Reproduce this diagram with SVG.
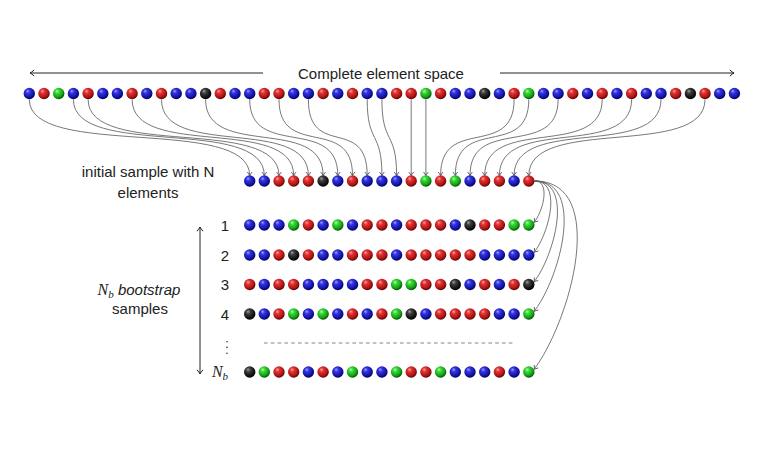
<svg xmlns="http://www.w3.org/2000/svg" xmlns:xlink="http://www.w3.org/1999/xlink" width="768" height="466" viewBox="0 0 768 466">
<style>
.t{font-family:"Liberation Sans","DejaVu Sans",sans-serif;font-size:15px;fill:#222;}
.m{font-family:"Liberation Serif","DejaVu Serif",serif;font-style:italic;fill:#222;}
.c{fill:none;stroke:#555;stroke-width:0.8;marker-end:url(#ah);}
.k{fill:none;stroke:#222;stroke-width:1;}
</style>
<defs>
<radialGradient id="gB" cx="0.42" cy="0.38" r="0.62" fx="0.35" fy="0.28"><stop offset="0" stop-color="#a0a0ff"/><stop offset="0.3" stop-color="#3434e0"/><stop offset="0.75" stop-color="#1414a8"/><stop offset="1" stop-color="#00005a"/></radialGradient>
<radialGradient id="gR" cx="0.42" cy="0.38" r="0.62" fx="0.35" fy="0.28"><stop offset="0" stop-color="#ffa0a0"/><stop offset="0.3" stop-color="#e03434"/><stop offset="0.75" stop-color="#b01414"/><stop offset="1" stop-color="#600000"/></radialGradient>
<radialGradient id="gG" cx="0.42" cy="0.38" r="0.62" fx="0.35" fy="0.28"><stop offset="0" stop-color="#b0ffb0"/><stop offset="0.3" stop-color="#38d838"/><stop offset="0.75" stop-color="#14a014"/><stop offset="1" stop-color="#005000"/></radialGradient>
<radialGradient id="gK" cx="0.42" cy="0.38" r="0.62" fx="0.35" fy="0.28"><stop offset="0" stop-color="#a0a0a0"/><stop offset="0.3" stop-color="#404040"/><stop offset="0.75" stop-color="#141414"/><stop offset="1" stop-color="#000000"/></radialGradient>
<circle id="B" r="5.7" fill="url(#gB)"/>
<circle id="R" r="5.7" fill="url(#gR)"/>
<circle id="G" r="5.7" fill="url(#gG)"/>
<circle id="K" r="5.7" fill="url(#gK)"/>
<marker id="ah" viewBox="-5 -4 6 8" refX="0" refY="0" markerWidth="6" markerHeight="8" markerUnits="userSpaceOnUse" orient="auto" overflow="visible"><path d="M-3.5,-2.4 Q-1.2,-0.6 0,0 Q-1.2,0.6 -3.5,2.4" fill="none" stroke="#444" stroke-width="0.8"/></marker>
<marker id="ak" viewBox="-6 -5 7 10" refX="0" refY="0" markerWidth="7" markerHeight="10" markerUnits="userSpaceOnUse" orient="auto" overflow="visible"><path d="M-4.2,-3 Q-1.5,-0.7 0,0 Q-1.5,0.7 -4.2,3" fill="none" stroke="#222" stroke-width="1"/></marker>
</defs>
<rect width="768" height="466" fill="#ffffff"/>

<g id="element-space-label">
<line class="k" x1="263" y1="73" x2="30" y2="73" marker-end="url(#ak)"/>
<line class="k" x1="500" y1="73" x2="734" y2="73" marker-end="url(#ak)"/>
<text class="t" x="381" y="78.5" text-anchor="middle" font-size="15.3">Complete element space</text>
</g>

<g id="connectors">
<path class="c" d="M29.3,99.5 C29.3,159.5 249.7,115 249.7,175.5"/>
<path class="c" d="M73.4,99.5 C73.4,159.5 264.3,115 264.3,175.5"/>
<path class="c" d="M88.1,99.5 C88.1,159.5 279,115 279,175.5"/>
<path class="c" d="M132.1,99.5 C132.1,159.5 293.7,115 293.7,175.5"/>
<path class="c" d="M161.5,99.5 C161.5,159.5 308.4,115 308.4,175.5"/>
<path class="c" d="M205.6,99.5 C205.6,159.5 323.1,115 323.1,175.5"/>
<path class="c" d="M249.7,99.5 C249.7,159.5 337.8,115 337.8,175.5"/>
<path class="c" d="M279,99.5 C279,159.5 352.5,115 352.5,175.5"/>
<path class="c" d="M308.4,99.5 C308.4,159.5 367.2,115 367.2,175.5"/>
<path class="c" d="M367.2,99.5 C367.2,145 381.9,130 381.9,175.5"/>
<path class="c" d="M381.9,99.5 C381.9,145 396.6,130 396.6,175.5"/>
<path class="c" d="M411.2,99.5 L411.2,175.5"/>
<path class="c" d="M425.9,99.5 L425.9,175.5"/>
<path class="c" d="M514.1,99.5 C514.1,159.5 440.6,115 440.6,175.5"/>
<path class="c" d="M528.8,99.5 C528.8,159.5 455.3,115 455.3,175.5"/>
<path class="c" d="M558.1,99.5 C558.1,159.5 470,115 470,175.5"/>
<path class="c" d="M602.2,99.5 C602.2,159.5 484.7,115 484.7,175.5"/>
<path class="c" d="M631.6,99.5 C631.6,159.5 499.4,115 499.4,175.5"/>
<path class="c" d="M661,99.5 C661,159.5 514.1,115 514.1,175.5"/>
<path class="c" d="M705,99.5 C705,159.5 528.8,115 528.8,175.5"/>
<path class="c" d="M534.6,181 C550.7,181 543.3,210.9 534.2,222.3"/>
<path class="c" d="M534.6,181 C562.4,181 549.2,232.8 534.2,252.3"/>
<path class="c" d="M534.6,181 C573.9,181 554.9,254.3 534.2,281.8"/>
<path class="c" d="M534.6,181 C585.5,181 560.7,276.8 534.2,311.3"/>
<path class="c" d="M534.6,181 C608.2,181 572,318.1 534.2,369.3"/>
</g>

<g id="complete-space">
<use href="#B" x="29.3" y="93.5"/><use href="#R" x="44" y="93.5"/><use href="#G" x="58.7" y="93.5"/><use href="#B" x="73.4" y="93.5"/><use href="#R" x="88.1" y="93.5"/><use href="#B" x="102.8" y="93.5"/><use href="#B" x="117.4" y="93.5"/><use href="#R" x="132.1" y="93.5"/><use href="#B" x="146.8" y="93.5"/><use href="#R" x="161.5" y="93.5"/>
<use href="#B" x="176.2" y="93.5"/><use href="#B" x="190.9" y="93.5"/><use href="#K" x="205.6" y="93.5"/><use href="#R" x="220.3" y="93.5"/><use href="#B" x="235" y="93.5"/><use href="#B" x="249.7" y="93.5"/><use href="#R" x="264.3" y="93.5"/><use href="#R" x="279" y="93.5"/><use href="#B" x="293.7" y="93.5"/><use href="#B" x="308.4" y="93.5"/>
<use href="#R" x="323.1" y="93.5"/><use href="#B" x="337.8" y="93.5"/><use href="#R" x="352.5" y="93.5"/><use href="#B" x="367.2" y="93.5"/><use href="#B" x="381.9" y="93.5"/><use href="#R" x="396.6" y="93.5"/><use href="#R" x="411.2" y="93.5"/><use href="#G" x="425.9" y="93.5"/><use href="#R" x="440.6" y="93.5"/><use href="#B" x="455.3" y="93.5"/>
<use href="#B" x="470" y="93.5"/><use href="#K" x="484.7" y="93.5"/><use href="#B" x="499.4" y="93.5"/><use href="#R" x="514.1" y="93.5"/><use href="#G" x="528.8" y="93.5"/><use href="#B" x="543.5" y="93.5"/><use href="#B" x="558.1" y="93.5"/><use href="#R" x="572.8" y="93.5"/><use href="#B" x="587.5" y="93.5"/><use href="#R" x="602.2" y="93.5"/>
<use href="#B" x="616.9" y="93.5"/><use href="#R" x="631.6" y="93.5"/><use href="#B" x="646.3" y="93.5"/><use href="#B" x="661" y="93.5"/><use href="#R" x="675.7" y="93.5"/><use href="#K" x="690.4" y="93.5"/><use href="#R" x="705" y="93.5"/><use href="#B" x="719.7" y="93.5"/><use href="#B" x="734.4" y="93.5"/>
</g>

<g id="initial-sample">
<text class="t" x="148" y="177" text-anchor="middle">initial sample with N</text>
<text class="t" x="148" y="198" text-anchor="middle">elements</text>
<use href="#B" x="249.7" y="181"/><use href="#B" x="264.3" y="181"/><use href="#R" x="279" y="181"/><use href="#R" x="293.7" y="181"/><use href="#R" x="308.4" y="181"/><use href="#K" x="323.1" y="181"/><use href="#B" x="337.8" y="181"/><use href="#R" x="352.5" y="181"/><use href="#B" x="367.2" y="181"/><use href="#B" x="381.9" y="181"/>
<use href="#B" x="396.6" y="181"/><use href="#R" x="411.2" y="181"/><use href="#G" x="425.9" y="181"/><use href="#R" x="440.6" y="181"/><use href="#G" x="455.3" y="181"/><use href="#B" x="470" y="181"/><use href="#R" x="484.7" y="181"/><use href="#R" x="499.4" y="181"/><use href="#B" x="514.1" y="181"/><use href="#R" x="528.8" y="181"/>
</g>

<g id="bootstrap-label">
<text x="139" y="295" text-anchor="middle"><tspan class="m" font-size="16">N</tspan><tspan class="m" font-size="11" dy="2.5">b</tspan><tspan class="t" font-style="italic" dy="-2.5"> bootstrap</tspan></text>
<text class="t" x="140" y="314" text-anchor="middle">samples</text>
<line class="k" x1="200" y1="300" x2="200" y2="227" marker-end="url(#ak)"/>
<line class="k" x1="200" y1="300" x2="200" y2="374" marker-end="url(#ak)"/>
</g>

<g id="sample-1">
<text class="t" x="225" y="230.5" text-anchor="middle">1</text>
<use href="#B" x="249.7" y="225"/><use href="#B" x="264.3" y="225"/><use href="#B" x="279" y="225"/><use href="#G" x="293.7" y="225"/><use href="#R" x="308.4" y="225"/><use href="#B" x="323.1" y="225"/><use href="#G" x="337.8" y="225"/><use href="#B" x="352.5" y="225"/><use href="#R" x="367.2" y="225"/><use href="#R" x="381.9" y="225"/>
<use href="#B" x="396.6" y="225"/><use href="#R" x="411.2" y="225"/><use href="#R" x="425.9" y="225"/><use href="#R" x="440.6" y="225"/><use href="#B" x="455.3" y="225"/><use href="#K" x="470" y="225"/><use href="#R" x="484.7" y="225"/><use href="#R" x="499.4" y="225"/><use href="#G" x="514.1" y="225"/><use href="#G" x="528.8" y="225"/>
</g>

<g id="sample-2">
<text class="t" x="225" y="260.5" text-anchor="middle">2</text>
<use href="#B" x="249.7" y="255"/><use href="#B" x="264.3" y="255"/><use href="#R" x="279" y="255"/><use href="#K" x="293.7" y="255"/><use href="#R" x="308.4" y="255"/><use href="#B" x="323.1" y="255"/><use href="#B" x="337.8" y="255"/><use href="#R" x="352.5" y="255"/><use href="#R" x="367.2" y="255"/><use href="#R" x="381.9" y="255"/>
<use href="#B" x="396.6" y="255"/><use href="#R" x="411.2" y="255"/><use href="#R" x="425.9" y="255"/><use href="#R" x="440.6" y="255"/><use href="#R" x="455.3" y="255"/><use href="#R" x="470" y="255"/><use href="#B" x="484.7" y="255"/><use href="#B" x="499.4" y="255"/><use href="#B" x="514.1" y="255"/><use href="#B" x="528.8" y="255"/>
</g>

<g id="sample-3">
<text class="t" x="225" y="290" text-anchor="middle">3</text>
<use href="#R" x="249.7" y="284.5"/><use href="#B" x="264.3" y="284.5"/><use href="#R" x="279" y="284.5"/><use href="#R" x="293.7" y="284.5"/><use href="#B" x="308.4" y="284.5"/><use href="#B" x="323.1" y="284.5"/><use href="#B" x="337.8" y="284.5"/><use href="#B" x="352.5" y="284.5"/><use href="#R" x="367.2" y="284.5"/><use href="#R" x="381.9" y="284.5"/>
<use href="#G" x="396.6" y="284.5"/><use href="#G" x="411.2" y="284.5"/><use href="#R" x="425.9" y="284.5"/><use href="#R" x="440.6" y="284.5"/><use href="#K" x="455.3" y="284.5"/><use href="#B" x="470" y="284.5"/><use href="#R" x="484.7" y="284.5"/><use href="#B" x="499.4" y="284.5"/><use href="#R" x="514.1" y="284.5"/><use href="#K" x="528.8" y="284.5"/>
</g>

<g id="sample-4">
<text class="t" x="225" y="319.5" text-anchor="middle">4</text>
<use href="#K" x="249.7" y="314"/><use href="#B" x="264.3" y="314"/><use href="#R" x="279" y="314"/><use href="#G" x="293.7" y="314"/><use href="#B" x="308.4" y="314"/><use href="#G" x="323.1" y="314"/><use href="#B" x="337.8" y="314"/><use href="#R" x="352.5" y="314"/><use href="#B" x="367.2" y="314"/><use href="#R" x="381.9" y="314"/>
<use href="#G" x="396.6" y="314"/><use href="#K" x="411.2" y="314"/><use href="#B" x="425.9" y="314"/><use href="#R" x="440.6" y="314"/><use href="#R" x="455.3" y="314"/><use href="#R" x="470" y="314"/><use href="#R" x="484.7" y="314"/><use href="#B" x="499.4" y="314"/><use href="#B" x="514.1" y="314"/><use href="#G" x="528.8" y="314"/>
</g>

<g id="ellipsis">
<circle cx="227" cy="341.7" r="0.8" fill="#333"/><circle cx="227" cy="347.4" r="0.8" fill="#333"/><circle cx="227" cy="353.2" r="0.8" fill="#333"/>
<line x1="264" y1="343" x2="515" y2="343" stroke="#666" stroke-width="0.8" stroke-dasharray="3.6,3.2"/>
</g>

<g id="sample-Nb">
<text x="220" y="377" text-anchor="middle"><tspan class="m" font-size="16">N</tspan><tspan class="m" font-size="11" dy="2.5">b</tspan></text>
<use href="#K" x="249.7" y="372"/><use href="#G" x="264.3" y="372"/><use href="#R" x="279" y="372"/><use href="#R" x="293.7" y="372"/><use href="#B" x="308.4" y="372"/><use href="#R" x="323.1" y="372"/><use href="#B" x="337.8" y="372"/><use href="#G" x="352.5" y="372"/><use href="#B" x="367.2" y="372"/><use href="#B" x="381.9" y="372"/>
<use href="#G" x="396.6" y="372"/><use href="#R" x="411.2" y="372"/><use href="#R" x="425.9" y="372"/><use href="#G" x="440.6" y="372"/><use href="#B" x="455.3" y="372"/><use href="#B" x="470" y="372"/><use href="#B" x="484.7" y="372"/><use href="#R" x="499.4" y="372"/><use href="#B" x="514.1" y="372"/><use href="#G" x="528.8" y="372"/>
</g>
</svg>
